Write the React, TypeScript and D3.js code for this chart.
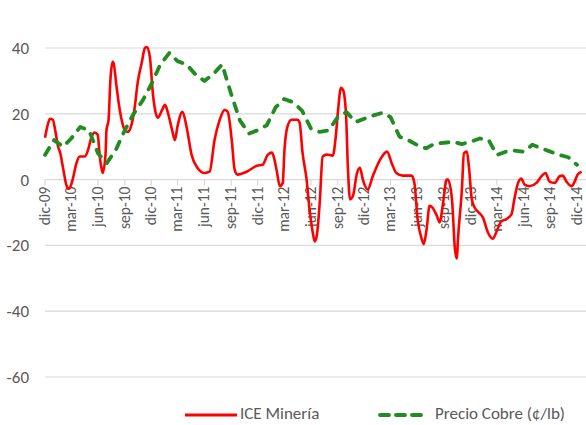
import React from 'react';
import * as d3 from 'd3';

// Precio Cobre (¢/lb), mensual desde dic-09
const cobreValues = [
  7.5, 12, 10, 12.5, 16, 15, 8, 5, 9, 15,
  20, 24, 29, 35, 38.5, 36, 35, 32, 30, 32,
  35, 26, 18, 14, 15, 16.5, 22, 24.5, 23.5, 21,
  15.5, 14.5, 15, 19, 20.5, 17.5, 18.5, 19.5, 20.3, 19,
  13, 12, 10.5, 9.5, 11, 11.2, 11.5, 10.8, 11.5, 12.5,
  12, 7.5, 8.5, 8.8, 8.5, 10.6, 9.5, 8.5, 7.5, 6.8,
  4.5,
];

// ICE Minería (serie de mayor frecuencia)
const iceDates = [
  '2009-12-01', '2009-12-08', '2009-12-18', '2009-12-28', '2010-01-05', '2010-01-15', '2010-01-22', '2010-02-02',
  '2010-02-12', '2010-02-19', '2010-02-25', '2010-03-06', '2010-03-19', '2010-03-30', '2010-04-16', '2010-04-26',
  '2010-05-10', '2010-05-20', '2010-05-31', '2010-06-07', '2010-06-14', '2010-06-17', '2010-06-27', '2010-06-30',
  '2010-07-07', '2010-07-14', '2010-07-21', '2010-07-24', '2010-08-04', '2010-08-11', '2010-08-21', '2010-09-01',
  '2010-09-11', '2010-09-25', '2010-10-05', '2010-10-15', '2010-10-29', '2010-11-09', '2010-11-16', '2010-11-26',
  '2010-12-06', '2010-12-16', '2010-12-23', '2011-01-07', '2011-01-17', '2011-01-27', '2011-02-10', '2011-02-20',
  '2011-02-28', '2011-03-18', '2011-04-01', '2011-04-18', '2011-05-08', '2011-06-02', '2011-06-19', '2011-07-06',
  '2011-07-23', '2011-08-10', '2011-08-20', '2011-09-03', '2011-09-13', '2011-09-23', '2011-10-24', '2011-11-28',
  '2011-12-18', '2012-01-05', '2012-01-19', '2012-01-26', '2012-02-05', '2012-02-15', '2012-02-25', '2012-03-02',
  '2012-03-12', '2012-03-26', '2012-04-16', '2012-04-23', '2012-05-03', '2012-05-17', '2012-05-27', '2012-06-07',
  '2012-06-14', '2012-06-21', '2012-07-01', '2012-07-11', '2012-07-25', '2012-08-15', '2012-08-25', '2012-09-02',
  '2012-09-12', '2012-09-19', '2012-09-29', '2012-10-06', '2012-10-13', '2012-10-23', '2012-11-06', '2012-11-16',
  '2012-11-26', '2012-12-13', '2012-12-30', '2013-01-24', '2013-02-17', '2013-03-05', '2013-03-21', '2013-04-12',
  '2013-05-12', '2013-05-22', '2013-06-02', '2013-06-16', '2013-06-23', '2013-07-03', '2013-07-13', '2013-07-23',
  '2013-08-07', '2013-08-17', '2013-08-27', '2013-09-10', '2013-09-14', '2013-09-28', '2013-10-08', '2013-10-15',
  '2013-10-18', '2013-11-01', '2013-11-08', '2013-11-18', '2013-11-25', '2013-12-05', '2013-12-15', '2013-12-29',
  '2014-01-12', '2014-01-29', '2014-02-15', '2014-02-28', '2014-03-16', '2014-04-03', '2014-04-20', '2014-04-30',
  '2014-05-11', '2014-05-24', '2014-06-04', '2014-06-21', '2014-07-15', '2014-08-01', '2014-08-15', '2014-08-29',
  '2014-09-16', '2014-10-02', '2014-10-13', '2014-10-26', '2014-11-13', '2014-11-23', '2014-12-03', '2014-12-17',
];
const iceValues = [
  12.7, 15.8, 18.5, 18.2, 15, 10, 8.2, 3,
  -1.5, -2.8, -2.4, 0, 5, 7, 7, 8.5,
  13, 14.3, 13.6, 7, 3, 2, 8, 15,
  18, 31, 35.8, 35.5, 28, 23.3, 18.2, 15,
  14.5, 17, 22, 29.4, 35.5, 40, 40.3, 37.3,
  26.4, 20.3, 18.8, 21.2, 22.7, 20.3, 15.2, 12,
  15.8, 20.6, 16, 7.6, 3.6, 2, 2.4, 12,
  18, 21.2, 20.6, 12, 3, 1.5, 2.4, 4.2,
  4.5, 7.6, 8.2, 6.7, 2.4, -2, -1, 9,
  16, 18.2, 18.2, 17.3, 8.2, 0, -9, -16,
  -18.8, -17, -7, 7, 7.6, 7.3, 13, 21.2,
  27.9, 27.3, 20.3, 3, -6, -5, 2, 3.6,
  0, -3, 1, 6, 8.5, 5, 2, 1.2,
  1.2, -1, -12, -18, -19.6, -15, -8, -8.5,
  -11, -13, -8, 0, 0, -6, -21, -24,
  -19, -3, 8, 8.5, 4, -6, -8.5, -10,
  -11.5, -16, -18, -15.8, -12.7, -12, -10.6, -6,
  -1.5, 0.3, -1.5, -2, -1, 1, 2, -0.6,
  -1, 1, 1.2, -0.6, -2, -0.6, 1.5, 2.4,
];

const yTicks = [40, 20, 0, -20, -40, -60];
const mesesEs = ['ene', 'feb', 'mar', 'abr', 'may', 'jun', 'jul', 'ago', 'sep', 'oct', 'nov', 'dic'];
const seriesNames = ['ICE Minería', 'Precio Cobre (¢/lb)'];

const W = 586;
const H = 425;
const font = "Calibri, Carlito, 'Liberation Sans', Arial, sans-serif";
const grey = '#595959';
const gridColor = '#d9d9d9';
const fs = 17;
const fsX = 15.5;
const legendY = 413;

export default function App() {
  const start = new Date(2009, 11, 1);
  const end = new Date(2015, 0, 1);
  const x = d3.scaleTime().domain([start, end]).range([45, 586]);
  const y = d3.scaleLinear().domain([-60, 40]).range([377, 48]);

  const cobre = cobreValues.map((v, i) => ({ date: d3.timeMonth.offset(start, i), value: v }));
  const ice = iceValues.map((v, i) => ({ date: d3.timeParse('%Y-%m-%d')(iceDates[i]) as Date, value: v }));

  const xTicks = d3.timeMonth.range(start, end).filter(d => d.getMonth() % 3 === 2);
  const fmt = (d: Date) => mesesEs[d.getMonth()] + '-' + String(d.getFullYear()).slice(2);

  const iceLine = d3.line<{ date: Date; value: number }>()
    .x(d => x(d.date))
    .y(d => y(d.value))
    .curve(d3.curveMonotoneX)(ice) as string;
  const cobreLine = d3.line<{ date: Date; value: number }>()
    .x(d => x(d.date))
    .y(d => y(d.value))(cobre) as string;

  const y0 = y(0);

  return (
    <svg width={W} height={H} style={{ position: 'absolute', left: 0, top: 0, background: '#fff' }} fontFamily={font}>
      {yTicks.map(t => (
        <g key={t}>
          <line x1={45} x2={586} y1={y(t)} y2={y(t)} stroke={gridColor} strokeWidth={1.2} />
          <text x={29} y={y(t)} dy="0.35em" textAnchor="end" fontSize={fs} fill={grey}>{t}</text>
        </g>
      ))}
      {xTicks.map(d => (
        <g key={d.getTime()}>
          <line x1={x(d)} x2={x(d)} y1={y0} y2={y0 + 6} stroke={gridColor} strokeWidth={1.2} />
          <text transform={`translate(${x(d) - 0.5},${y0 + 7}) rotate(-90)`} dy="0.35em" textAnchor="end"
            fontSize={fsX} fill={grey}>{fmt(d)}</text>
        </g>
      ))}
      <path d={iceLine} fill="none" stroke="#ff0000" strokeWidth={2.6} strokeLinejoin="round" />
      <path d={cobreLine} fill="none" stroke="#228b22" strokeWidth={3.8} strokeDasharray="8,9" strokeLinecap="round" strokeLinejoin="round" />

      {/* leyenda */}
      <line x1={185} x2={237} y1={legendY + 2} y2={legendY + 2} stroke="#ff0000" strokeWidth={3} />
      <text x={240} y={legendY} dy="0.35em" fontSize={fs} fill={grey}>{seriesNames[0]}</text>
      <line x1={380} x2={424} y1={legendY + 2} y2={legendY + 2} stroke="#228b22" strokeWidth={3.8} strokeDasharray="9,7" strokeLinecap="round" />
      <text x={435} y={legendY} dy="0.35em" fontSize={fs} fill={grey}>{seriesNames[1]}</text>
    </svg>
  );
}
